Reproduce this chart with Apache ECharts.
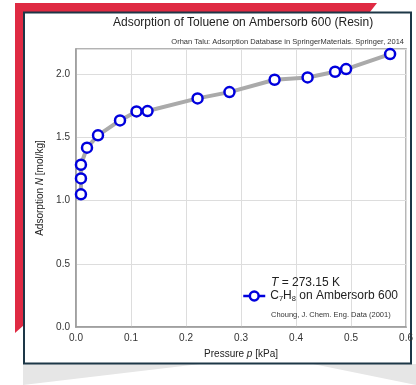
<!DOCTYPE html>
<html>
<head>
<meta charset="utf-8">
<script src="https://cdn.jsdelivr.net/npm/echarts@6/dist/echarts.min.js"></script>
<style>
html,body{margin:0;padding:0;background:#fff;}
#chart{width:416px;height:385px;}
</style>
</head>
<body>
<div id="chart"></div>
<script>
// Data
var pressure = [0.009, 0.009, 0.009, 0.020, 0.040, 0.080, 0.110, 0.130, 0.221, 0.279, 0.361, 0.421, 0.471, 0.491, 0.571];
var adsorption = [1.050, 1.176, 1.284, 1.419, 1.517, 1.635, 1.706, 1.709, 1.809, 1.859, 1.957, 1.975, 2.020, 2.041, 2.160];
var xTicks = [0.0, 0.1, 0.2, 0.3, 0.4, 0.5, 0.6];
var yTicks = [0.0, 0.5, 1.0, 1.5, 2.0];
var titleText = 'Adsorption of Toluene on Ambersorb 600 (Resin)';
var subtitleText = 'Orhan Talu: Adsorption Database in SpringerMaterials. Springer, 2014';
var seriesName = 'C7H8 on Ambersorb 600';
var tempText = ' = 273.15 K';
var citeText = 'Choung, J. Chem. Eng. Data (2001)';

var FONT = '"Liberation Sans", Arial, Helvetica, sans-serif';
var points = pressure.map(function (p, i) { return [p, adsorption[i]]; });

var chart = echarts.init(document.getElementById('chart'), null, {renderer: 'canvas'});
chart.setOption({
  backgroundColor: '#ffffff',
  animation: false,
  textStyle: {fontFamily: FONT},
  title: [
    {text: titleText, left: 113, top: 17, padding: 0,
     textStyle: {fontFamily: FONT, fontSize: 12, fontWeight: 'normal', color: '#222'}},
    {text: subtitleText, right: 12, top: 38, padding: 0,
     textStyle: {fontFamily: FONT, fontSize: 7.5, fontWeight: 'normal', color: '#333'}}
  ],
  graphic: [
    {type: 'polygon', z: -100, silent: true,
     shape: {points: [[15,3],[377,3],[370,12],[24,12],[24,325],[15,333]]},
     style: {fill: '#df2a43'}},
    {type: 'polygon', z: -100, silent: true,
     shape: {points: [[23,364],[200,364],[23,385]]},
     style: {fill: '#e6e6e6'}},
    {type: 'polygon', z: -100, silent: true,
     shape: {points: [[313,364],[416,364],[416,385]]},
     style: {fill: '#e6e6e6'}},
    {type: 'rect', z: -99, silent: true,
     shape: {x: 24, y: 12.5, width: 387, height: 351},
     style: {fill: '#ffffff', stroke: '#1d3747', lineWidth: 2}},
    {type: 'text', left: 271, top: 277, z: 10,
     style: {text: '{i|T}{n|' + tempText + '}', rich: {
       i: {fontFamily: FONT, fontSize: 12, fontStyle: 'italic', fill: '#222'},
       n: {fontFamily: FONT, fontSize: 12, fill: '#222'}}}},
    {type: 'text', left: 271, top: 311, z: 10,
     style: {text: citeText, fontFamily: FONT, fontSize: 7.5, fill: '#333'}}
  ],
  legend: {
    show: true,
    left: 242, top: 290,
    padding: 0,
    itemWidth: 22, itemHeight: 11, itemGap: 0,
    data: [seriesName],
    lineStyle: {color: '#0000dd', width: 2.5},
    itemStyle: {color: '#ffffff', borderColor: '#0000dd', borderWidth: 2.5},
    formatter: function () { return '{a|C}{s|7}{a|H}{s|8}{a| on Ambersorb 600}'; },
    textStyle: {
      fontFamily: FONT, fontSize: 12, color: '#222',
      rich: {
        a: {fontFamily: FONT, fontSize: 12, color: '#222'},
        s: {fontFamily: FONT, fontSize: 7.5, color: '#222', padding: [6, 0, 0, 0]}
      }
    }
  },
  grid: {
    left: 76, top: 49, right: 8, bottom: 58,
    show: true, borderColor: '#9a9a9a', borderWidth: 1.5, backgroundColor: 'transparent'
  },
  xAxis: {
    type: 'value', min: 0, max: 0.6, interval: 0.1,
    name: '{n|Pressure }{i|p}{n| [kPa]}', nameLocation: 'middle', nameGap: 22,
    nameTextStyle: {rich: {
      n: {fontFamily: FONT, fontSize: 10, color: '#222'},
      i: {fontFamily: FONT, fontSize: 10, color: '#222', fontStyle: 'italic'}}},
    axisLine: {show: true, lineStyle: {color: '#9a9a9a', width: 1.5}},
    axisTick: {show: false},
    axisLabel: {fontFamily: FONT, fontSize: 10, color: '#333', margin: 6,
      formatter: function (v) { return v.toFixed(1); }},
    splitLine: {show: true, lineStyle: {color: '#dddddd', width: 1}}
  },
  yAxis: {
    type: 'value', min: 0, max: 2.2, interval: 0.5,
    name: '{n|Adsorption }{i|N}{n| [mol/kg]}', nameLocation: 'middle', nameGap: 25, nameRotate: 90,
    nameTextStyle: {rich: {
      n: {fontFamily: FONT, fontSize: 10, color: '#222'},
      i: {fontFamily: FONT, fontSize: 10, color: '#222', fontStyle: 'italic'}}},
    axisLine: {show: true, lineStyle: {color: '#9a9a9a', width: 1.5}},
    axisTick: {show: false},
    axisLabel: {fontFamily: FONT, fontSize: 10, color: '#333', margin: 6,
      formatter: function (v) {
        var ok = yTicks.some(function (t) { return Math.abs(t - v) < 1e-6; });
        return ok ? v.toFixed(1) : '';
      }},
    splitLine: {show: true, lineStyle: {color: '#dddddd', width: 1}}
  },
  series: [{
    name: seriesName,
    type: 'line',
    data: points,
    symbol: 'circle',
    symbolSize: 10,
    showAllSymbol: true,
    lineStyle: {color: '#aaaaaa', width: 4},
    itemStyle: {color: '#ffffff', borderColor: '#0000dd', borderWidth: 2.5},
    z: 5
  }]
});
</script>
</body>
</html>
